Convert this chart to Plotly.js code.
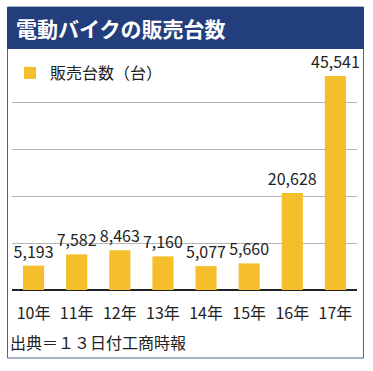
<!DOCTYPE html>
<html><head><meta charset="utf-8">
<script src="https://cdn.plot.ly/plotly-3.0.1.min.js"></script>
<style>html,body{margin:0;padding:0;background:#fff;}#chart{width:373px;height:371px;}</style>
</head><body><div id="chart"></div>
<script>
var categories = ["10年","11年","12年","13年","14年","15年","16年","17年"];
var sales = [5193, 7582, 8463, 7160, 5077, 5660, 20628, 45541];
var seriesName = "販売台数（台）";
var titleText = "電動バイクの販売台数";
var sourceText = "出典＝１３日付工商時報";

var F = '"Noto Sans CJK JP", "Noto Sans", sans-serif';
var L = 11, R = 16, T = 55, B = 81, W = 373, H = 371;
var pw = W - L - R, ph = H - T - B;
function px(x){ return (x - L) / pw; }
function py(y){ return (H - B - y) / ph; }

var trace = {
  type: 'bar', x: categories, y: sales, name: seriesName,
  marker: {color: '#f5bf2b'},
  text: sales.map(function(v){ return v.toLocaleString('en-US'); }),
  textposition: 'outside', cliponaxis: false, constraintext: 'none',
  textfont: {family: F, size: 16, color: '#222'},
  hoverinfo: 'none'
};

var layout = {
  width: W, height: H,
  margin: {l: L, r: R, t: T, b: B, pad: 0},
  paper_bgcolor: '#fff', plot_bgcolor: '#fff',
  bargap: 0.51,
  font: {family: F, color: '#222'},
  showlegend: true,
  legend: {x: px(10), y: py(56), xanchor: 'left', yanchor: 'top',
           font: {family: F, size: 16, color: '#222'}, bgcolor: 'rgba(0,0,0,0)'},
  xaxis: {type: 'category', showgrid: false, showline: false, zeroline: false,
          ticks: 'outside', ticklen: 9, tickcolor: 'rgba(0,0,0,0)',
          tickfont: {family: F, size: 16, color: '#222'}},
  yaxis: {range: [0, 50000], dtick: 10000, showticklabels: false, showgrid: true,
          gridcolor: '#b5b5b5', gridwidth: 1, zeroline: true, zerolinecolor: '#222',
          zerolinewidth: 1.2, showline: false, ticks: ''},
  shapes: [
    {type: 'rect', xref: 'paper', yref: 'paper', x0: px(6.5), x1: px(363.5), y0: py(358), y1: py(7),
     line: {color: '#4e6790', width: 1}, fillcolor: 'rgba(0,0,0,0)', layer: 'below'},
    {type: 'rect', xref: 'paper', yref: 'paper', x0: px(6), x1: px(364), y0: py(49), y1: py(7),
     line: {width: 0}, fillcolor: '#233e7c', layer: 'above'}
  ],
  annotations: [
    {xref: 'paper', yref: 'paper', x: px(13), y: py(28), xanchor: 'left', yanchor: 'middle',
     text: '<b>' + titleText + '</b>', showarrow: false,
     font: {family: F, size: 21, color: '#fff'}},
    {xref: 'paper', yref: 'paper', x: px(7), y: py(342), xanchor: 'left', yanchor: 'middle',
     text: sourceText, showarrow: false, font: {family: F, size: 16, color: '#222'}}
  ]
};

Plotly.newPlot('chart', [trace], layout, {staticPlot: true, displayModeBar: false});
</script></body></html>
